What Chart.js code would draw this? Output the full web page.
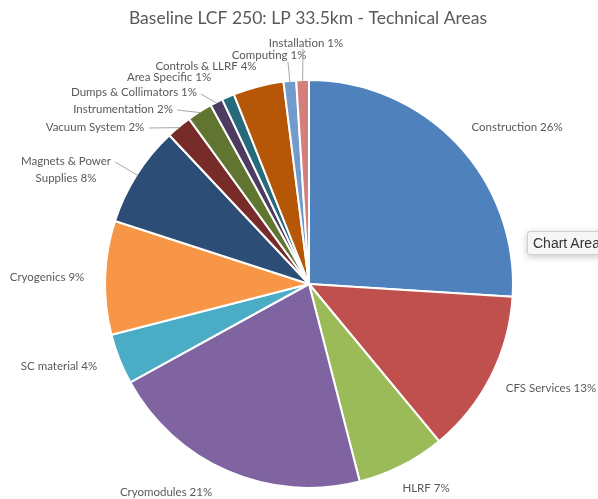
<!DOCTYPE html>
<html>
<head>
<meta charset="utf-8">
<title>Technical Areas</title>
<script src="https://cdn.jsdelivr.net/npm/chart.js@4.4.1/dist/chart.umd.min.js"></script>
<style>
  html, body { margin: 0; padding: 0; background: #fff; overflow: hidden; }
  #wrap { position: relative; width: 598px; height: 499px; }
  #areaChart { display: block; }
  #tip {
    position: absolute; left: 527px; top: 231px; width: 90px; height: 24px;
    box-sizing: border-box; padding-left: 5px;
    background: #f6f6f6; border: 1px solid #cfcfcf; border-radius: 3px;
    box-shadow: 0 2px 7px rgba(0, 0, 0, 0.22);
    font: 14px "Liberation Sans", Arial, sans-serif; color: #333; line-height: 22px;
    white-space: nowrap;
  }
</style>
</head>
<body>
<div id="wrap">
  <canvas id="areaChart" width="598" height="499"></canvas>
  <div id="tip">Chart Area</div>
</div>
<script>
// cost share per technical area, clockwise from 12 o'clock
const areaNames = [
  'Construction', 'CFS Services', 'HLRF', 'Cryomodules', 'SC material',
  'Cryogenics', 'Magnets & Power Supplies', 'Vacuum System', 'Instrumentation',
  'Dumps & Collimators', 'Area Specific', 'Controls & LLRF', 'Computing', 'Installation'
];
const areaShares = [26, 13, 7, 21, 4, 9, 8, 2, 2, 1, 1, 4, 1, 1];
const areaColors = [
  '#4f81bd', '#c0504d', '#9bbb59', '#8064a2', '#4bacc6',
  '#f79646', '#2c4d75', '#772c2a', '#5f7530',
  '#4d3b62', '#276a7c', '#b65708', '#729aca', '#d57f7d'
];

const chartTitle = 'Baseline LCF 250: LP 33.5km - Technical Areas';
const labelFont = '11.5px Lato, "Open Sans", sans-serif';
const titleFont = '17.5px Lato, "Open Sans", sans-serif';
const textGrey = '#595959';

// hand-placed label spots (text centre) and optional leader start points
const labelSpots = [
  { x: 517, y: 127 },
  { x: 551, y: 388 },
  { x: 426, y: 488 },
  { x: 166, y: 492 },
  { x: 59, y: 366 },
  { x: 47, y: 277 },
  { x: 66, y: 161, wrapAt: 15, lead: [115, 162] },
  { x: 95, y: 127, lead: [149, 128] },
  { x: 123, y: 109, lead: [177, 110] },
  { x: 134, y: 92, lead: [201, 94] },
  { x: 169, y: 77 },
  { x: 206, y: 66 },
  { x: 269, y: 55, lead: [288, 62] },
  { x: 306, y: 43, lead: [303, 49] }
];

const titleDrawer = {
  id: 'titleDrawer',
  afterDraw(chart) {
    const ctx = chart.ctx;
    ctx.save();
    ctx.font = titleFont;
    ctx.fillStyle = textGrey;
    ctx.textAlign = 'center';
    ctx.textBaseline = 'middle';
    ctx.fillText(chartTitle, 308, 18);
    ctx.restore();
  }
};

const sliceLabels = {
  id: 'sliceLabels',
  afterDatasetsDraw(chart) {
    const ctx = chart.ctx;
    const arcs = chart.getDatasetMeta(0).data;
    ctx.save();
    ctx.font = labelFont;
    ctx.fillStyle = textGrey;
    ctx.textAlign = 'center';
    ctx.textBaseline = 'middle';
    arcs.forEach((arc, i) => {
      const spot = labelSpots[i];
      const text = areaNames[i] + ' ' + areaShares[i] + '%';
      if (spot.wrapAt) {
        ctx.fillText(text.slice(0, spot.wrapAt), spot.x, spot.y);
        ctx.fillText(text.slice(spot.wrapAt).trim(), spot.x, spot.y + 17);
      } else {
        ctx.fillText(text, spot.x, spot.y);
      }
      if (spot.lead) {
        const p = arc.getProps(['x', 'y', 'startAngle', 'endAngle', 'outerRadius'], true);
        const mid = (p.startAngle + p.endAngle) / 2;
        const ex = p.x + Math.cos(mid) * (p.outerRadius - 1);
        const ey = p.y + Math.sin(mid) * (p.outerRadius - 1);
        ctx.strokeStyle = '#a6a6a6';
        ctx.lineWidth = 1;
        ctx.beginPath();
        ctx.moveTo(spot.lead[0], spot.lead[1]);
        ctx.lineTo(ex, ey);
        ctx.stroke();
      }
    });
    ctx.restore();
  }
};

new Chart(document.getElementById('areaChart'), {
  type: 'pie',
  data: {
    labels: areaNames,
    datasets: [{
      data: areaShares,
      backgroundColor: areaColors,
      borderColor: '#ffffff',
      borderWidth: 2,
      hoverOffset: 0
    }]
  },
  plugins: [sliceLabels, titleDrawer],
  options: {
    responsive: false,
    animation: false,
    events: [],
    radius: 204,
    layout: { padding: { top: 80, bottom: 11, left: 20, right: 0 } },
    plugins: {
      legend: { display: false },
      title: { display: false },
      tooltip: { enabled: false }
    }
  }
});
</script>
</body>
</html>
